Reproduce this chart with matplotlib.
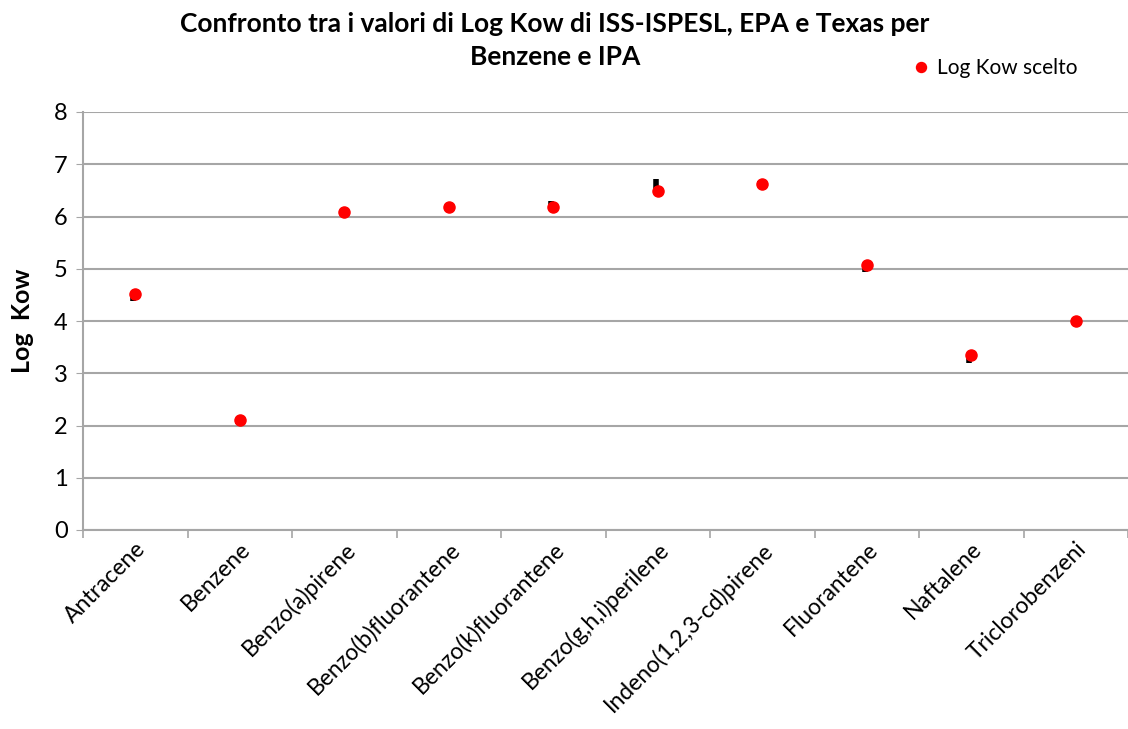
import numpy as np
import matplotlib.pyplot as plt

plt.rcParams['font.family'] = ['Lato', 'DejaVu Sans']

categories = ["Antracene", "Benzene", "Benzo(a)pirene", "Benzo(b)fluorantene",
              "Benzo(k)fluorantene", "Benzo(g,h,i)perilene", "Indeno(1,2,3-cd)pirene",
              "Fluorantene", "Naftalene", "Triclorobenzeni"]
log_kow = [4.52, 2.11, 6.08, 6.18, 6.18, 6.49, 6.62, 5.07, 3.35, 4.0]
range_low = [4.38, 2.03, 6.08, 6.18, 6.18, 6.49, 6.62, 4.94, 3.20, 4.0]
range_high = [4.52, 2.11, 6.08, 6.18, 6.30, 6.72, 6.68, 5.07, 3.35, 4.0]

fig = plt.figure(figsize=(11.28, 7.29), dpi=100)
ax = fig.add_axes([83/1128, 1 - 530/729, (1128 - 83)/1128, (530 - 112)/729])

x = np.arange(len(categories))
ax.vlines(x - 0.02, range_low, range_high, color="black", lw=4, zorder=2)
ax.plot(x, log_kow, "o", color="#ff0000", ms=8, ls="none", zorder=3,
        label="Log Kow scelto")

ax.set_xlim(-0.5, len(categories) - 0.5)
ax.set_ylim(0, 8)
ax.set_yticks(range(0, 9))
ax.yaxis.grid(True, color="#a6a6a6", lw=1.5)
ax.set_axisbelow(True)
ax.tick_params(axis="y", labelsize=17, length=5, color="#a6a6a6", pad=6)

ax.set_xticks(x)
ax.set_xticklabels(categories, rotation=45, ha="right", rotation_mode="anchor",
                   fontsize=16.5)
ax.tick_params(axis="x", length=0, pad=6)
ax.set_xticks(np.arange(len(categories) + 1) - 0.5, minor=True)
ax.tick_params(axis="x", which="minor", length=6, color="#a6a6a6", width=1.2)

for side in ["top", "right"]:
    ax.spines[side].set_visible(False)
for side in ["left", "bottom"]:
    ax.spines[side].set_color("#a6a6a6")
    ax.spines[side].set_linewidth(1.5)

ax.set_ylabel("Log  Kow", fontsize=18, fontweight="bold", labelpad=14)

fig.text(0.492, 0.983, "Confronto tra i valori di Log Kow di ISS-ISPESL, EPA e Texas per\nBenzene e IPA",
         ha="center", va="top", fontsize=19, fontweight="bold", linespacing=1.45)

fig.legend(loc="center left", bbox_to_anchor=(881/1128, 1 - 68/729), frameon=False,
           fontsize=15, handletextpad=-0.2, markerscale=0.9)

fig.savefig("out.png", dpi=100)
